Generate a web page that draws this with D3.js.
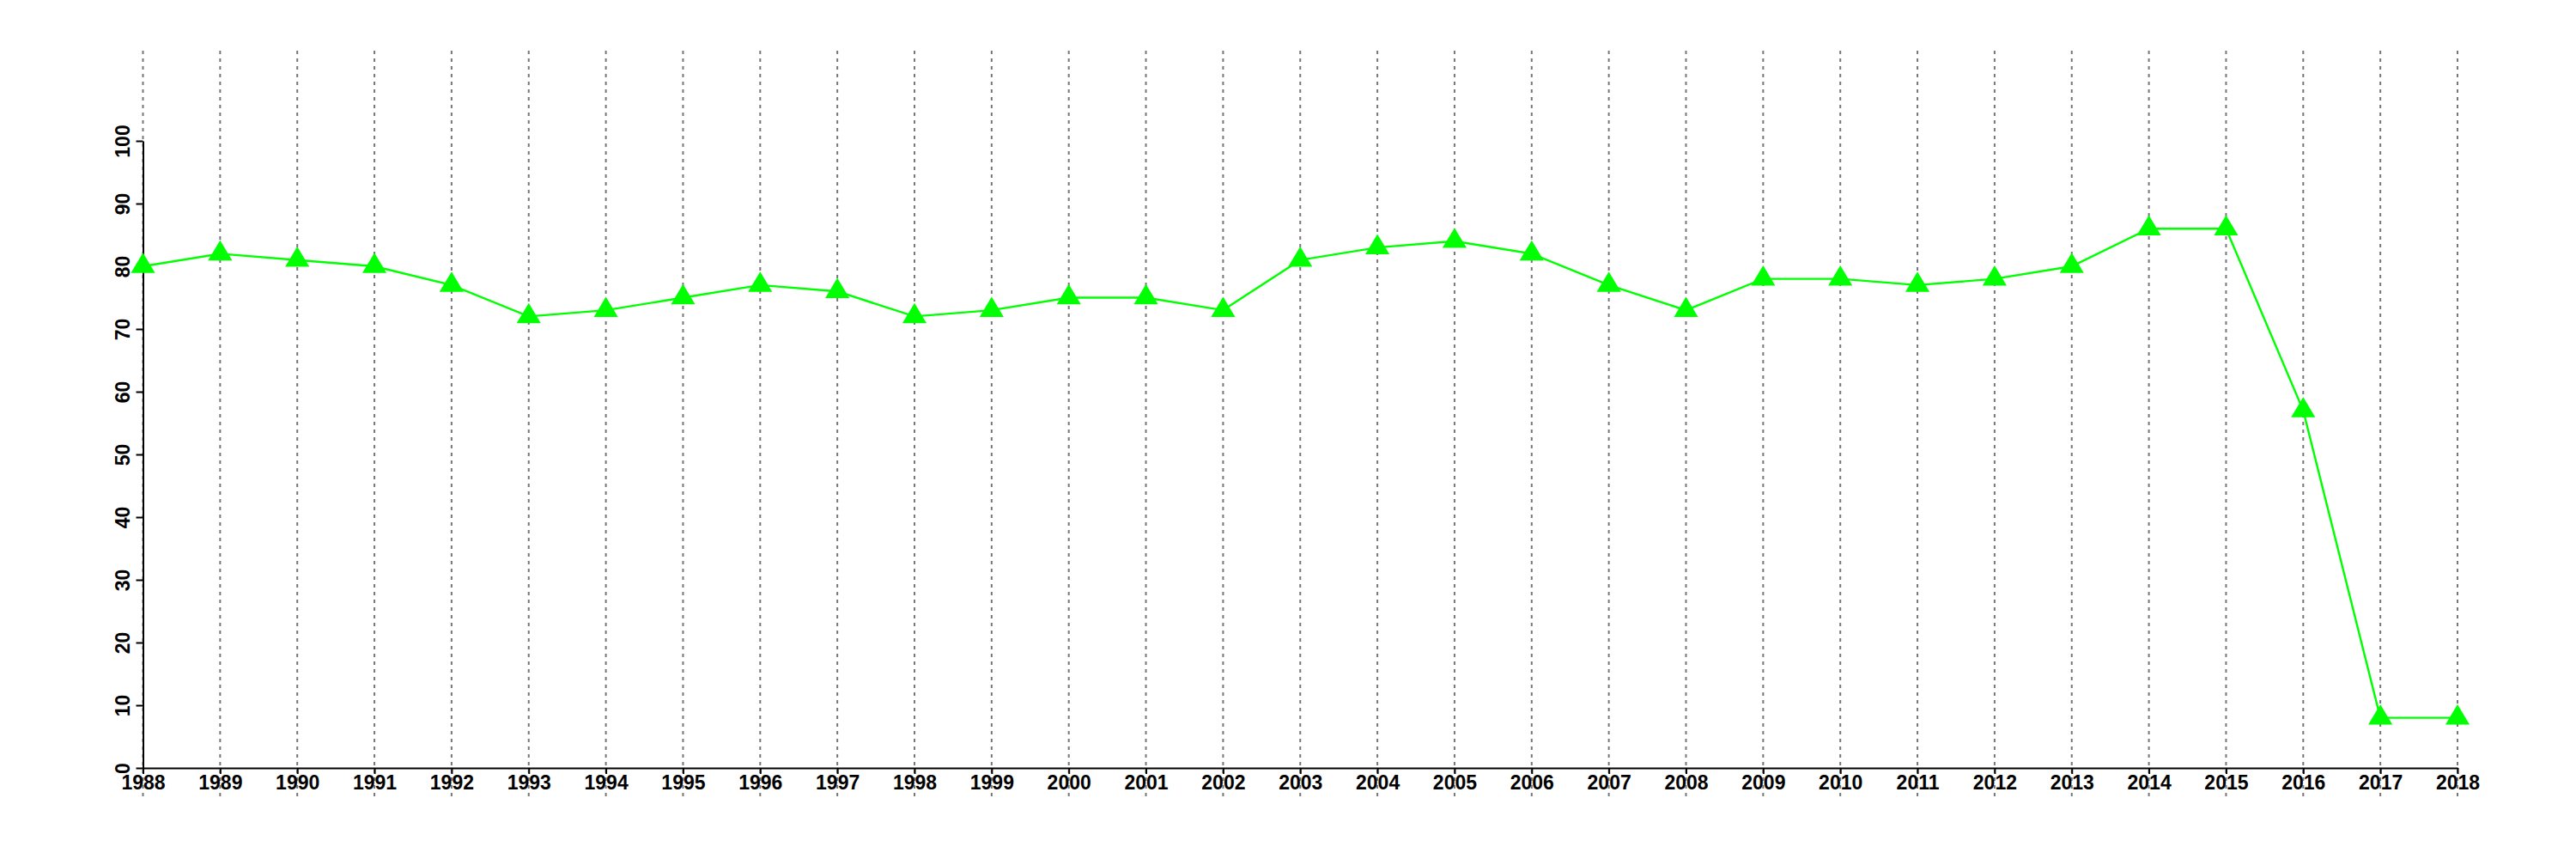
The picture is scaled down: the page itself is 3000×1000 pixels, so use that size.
<!DOCTYPE html>
<html>
<head>
<meta charset="utf-8">
<script src="https://cdn.jsdelivr.net/npm/d3@7"></script>
<style>
  html, body { margin: 0; padding: 0; background: #fff; }
  svg { display: block; }
</style>
</head>
<body>
<svg id="chart" width="3000" height="1000"></svg>
<script>
const years = [1988,1989,1990,1991,1992,1993,1994,1995,1996,1997,1998,1999,2000,2001,2002,2003,2004,2005,2006,2007,2008,2009,2010,2011,2012,2013,2014,2015,2016,2017,2018];
const values = [80,82,81,80,77,72,73,75,77,76,72,73,75,75,73,81,83,84,82,77,73,78,78,77,78,80,86,86,57,8,8];
const yTicks = [0,10,20,30,40,50,60,70,80,90,100];

(function () {
const svg = d3.select("#chart");
const mLeft = 166.5, mRight = 2862, mTop = 164, mBottom = 894;
const gridTop = 59, gridBottom = 927;

const x = d3.scaleLinear().domain([d3.min(years), d3.max(years)]).range([mLeft, mRight]);
const y = d3.scaleLinear().domain([0, 100]).range([mBottom, mTop]);

const font = "'Liberation Sans', Arial, Helvetica, sans-serif";

// vertical dashed grid lines
svg.append("g").selectAll("line").data(years).join("line")
  .attr("x1", d => x(d)).attr("x2", d => x(d))
  .attr("y1", gridTop).attr("y2", gridBottom)
  .attr("stroke", "#777").attr("stroke-width", 2)
  .attr("stroke-dasharray", "4,5");

// x axis
const xAxis = d3.axisBottom(x).tickValues(years).tickFormat(d3.format("d"))
  .tickSize(7).tickSizeOuter(0).tickPadding(2);
const gx = svg.append("g").attr("transform", `translate(0,${mBottom})`).call(xAxis);
gx.select(".domain").attr("stroke", "#000").attr("stroke-width", 2);
gx.selectAll(".tick line").attr("stroke", "#000").attr("stroke-width", 2);
gx.selectAll(".tick text")
  .attr("font-family", font).attr("font-size", 23).attr("font-weight", "bold")
  .attr("fill", "#000");

// y axis
const yAxis = d3.axisLeft(y).tickValues(yTicks).tickSize(8).tickSizeOuter(0);
const gy = svg.append("g").attr("transform", `translate(${mLeft},0)`).call(yAxis);
gy.select(".domain").attr("stroke", "#000").attr("stroke-width", 2);
gy.selectAll(".tick line").attr("stroke", "#000").attr("stroke-width", 2);
gy.selectAll(".tick text")
  .attr("font-family", font).attr("font-size", 23).attr("font-weight", "bold")
  .attr("fill", "#000")
  .attr("transform", "rotate(-90)")
  .attr("x", 0).attr("y", -16)
  .attr("dy", 0)
  .attr("text-anchor", "middle");

// line
const data = years.map((d, i) => ({year: d, value: values[i]}));
const line = d3.line().x(d => x(d.year)).y(d => y(d.value));
svg.append("path").datum(data)
  .attr("d", line).attr("fill", "none")
  .attr("stroke", "#00ff00").attr("stroke-width", 2.4);

// triangle markers (slightly wide triangle, centroid at the data point)
const wideTriangle = {
  draw(context, size) {
    const h = Math.sqrt(size * 2 / 1.2); // height; width = 1.2 * height
    const w = 1.2 * h;
    context.moveTo(0, -2 * h / 3);
    context.lineTo(w / 2, h / 3);
    context.lineTo(-w / 2, h / 3);
    context.closePath();
  }
};
const tri = d3.symbol().type(wideTriangle).size(330);
svg.append("g").selectAll("path").data(data).join("path")
  .attr("d", tri)
  .attr("transform", d => `translate(${x(d.year)},${y(d.value)})`)
  .attr("fill", "#00ff00");
})();
</script>
</body>
</html>
